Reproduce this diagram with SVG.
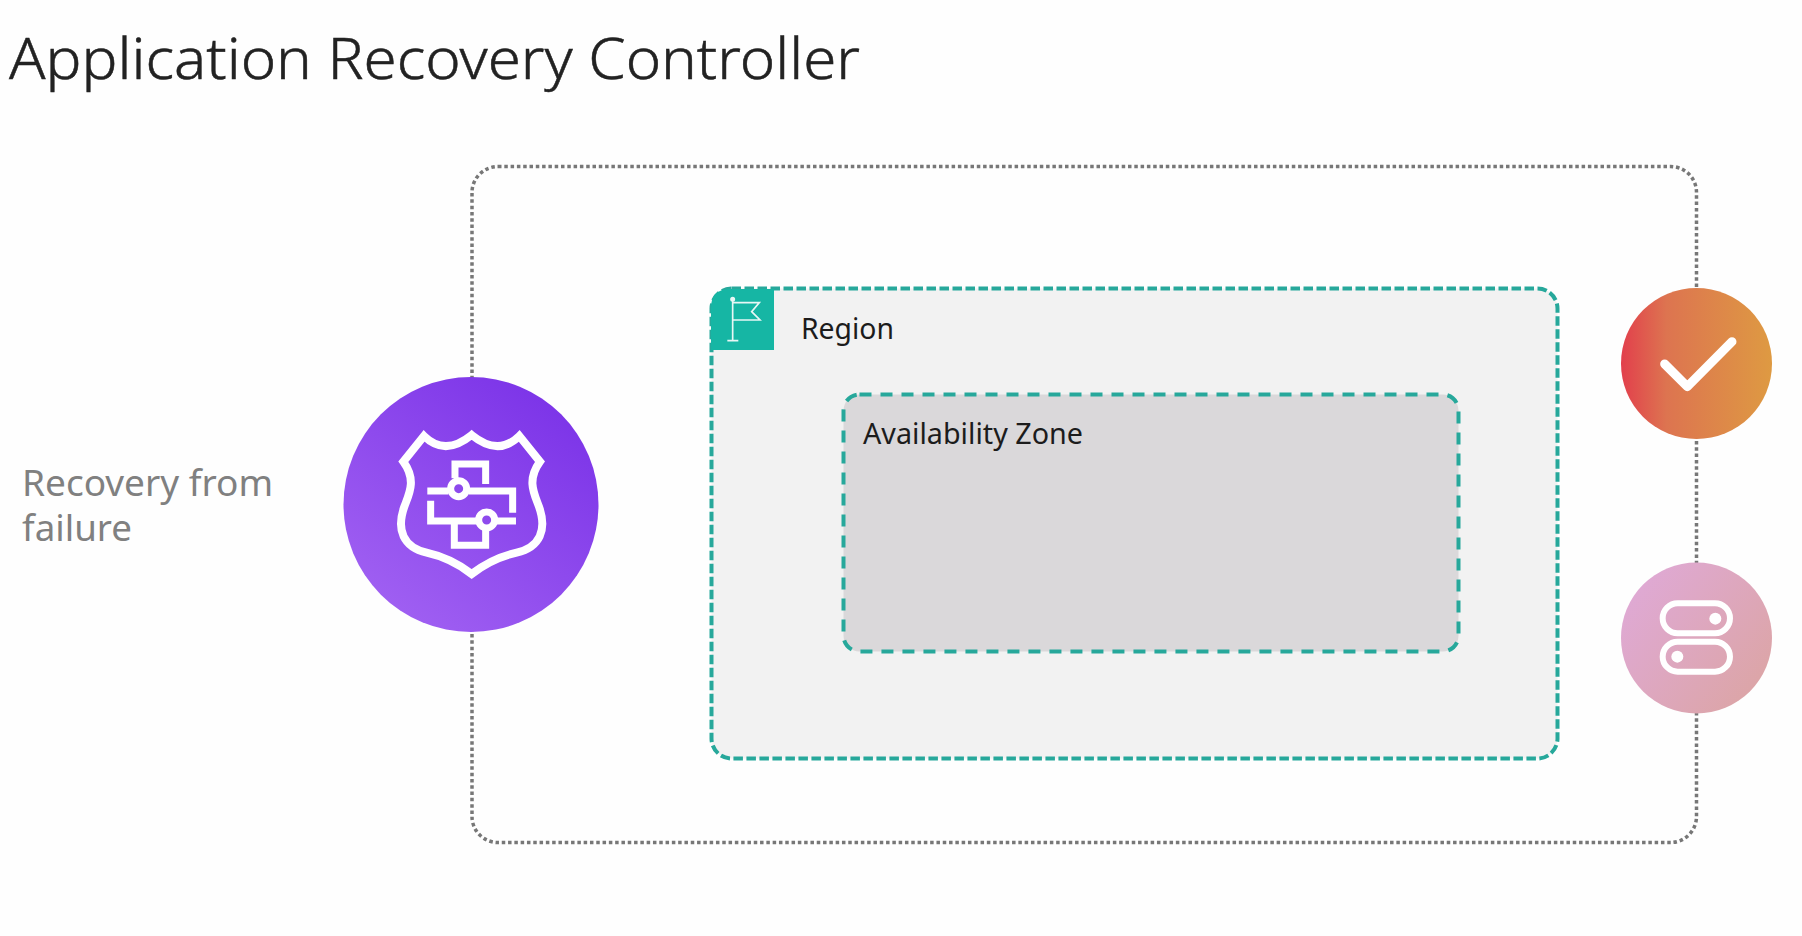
<svg xmlns="http://www.w3.org/2000/svg" width="1802" height="936" viewBox="0 0 1802 936">
<defs>
<linearGradient id="gp" x1="0.2" y1="0.95" x2="0.85" y2="0.1"><stop offset="0" stop-color="#a060f2"/><stop offset="1" stop-color="#7c34e8"/></linearGradient>
<linearGradient id="go" x1="0" y1="0" x2="1" y2="0"><stop offset="0" stop-color="#e23f4c"/><stop offset="0.3" stop-color="#dd7450"/><stop offset="1" stop-color="#de9a42"/></linearGradient>
<linearGradient id="gk" x1="0.1" y1="0.2" x2="0.9" y2="0.8"><stop offset="0" stop-color="#dfa9d3"/><stop offset="1" stop-color="#dca5a8"/></linearGradient>
</defs>
<style>
text{font-family:"Noto Sans","Open Sans","Liberation Sans",sans-serif}
.icon{fill:none;stroke:#fff;stroke-linejoin:miter}
.lbl{font-size:29px;fill:#1c1c1c}
</style>
<rect width="1802" height="936" fill="#fefefe"/>
<text x="9" y="79" font-size="57" fill="#222" stroke="#222" stroke-width=".5" font-weight="300" textLength="851" lengthAdjust="spacingAndGlyphs">Application Recovery Controller</text>
<g id="connectors">
<rect x="472" y="166.500" width="1224.500" height="676" rx="26" fill="none" stroke="#777" stroke-width="3.500" stroke-dasharray="3.500 2.800"/>
</g>
<g id="region">
<rect x="711.500" y="288.500" width="846" height="470" rx="20" fill="#f2f2f2" stroke="#27a89b" stroke-width="4" stroke-dasharray="9.500 3.500"/>
<path d="M711 350V308Q711 289 730 289H774V350Z" fill="#16b6a4"/>
<g transform="translate(700 270) scale(.3333)" fill="none" stroke="#e8f7f5" stroke-width="5">
<path d="M98 88V212M82 212H115M98 98H178L155 125L180 150H98"/><circle cx="98" cy="88" r="5" fill="#e8f7f5"/>
</g>
<text class="lbl" x="801" y="339" textLength="93" lengthAdjust="spacingAndGlyphs">Region</text>
</g>
<g id="availability-zone">
<rect x="843.500" y="394.500" width="615" height="257" rx="16" fill="#dad8da" stroke="#27a89b" stroke-width="4" stroke-dasharray="12 9"/>
<text class="lbl" x="863" y="444" textLength="220" lengthAdjust="spacingAndGlyphs">Availability Zone</text>
</g>
<g id="recovery-label">
<text font-size="36" fill="#808080"><tspan x="22" y="496" textLength="251" lengthAdjust="spacingAndGlyphs">Recovery from</tspan><tspan x="22" y="541" textLength="110" lengthAdjust="spacingAndGlyphs">failure</tspan></text>
</g>
<g id="arc-controller">
<circle cx="471" cy="504.500" r="127.500" fill="url(#gp)"/>
<g transform="translate(320 360) scale(.3333)" class="icon" stroke-width="24">
<path d="M312 228Q375 290 455 225Q535 290 598 228L660 305C620 360 642 400 657 440C682 510 660 562 590 578C535 590 490 615 455 642C420 615 375 590 320 578C250 562 228 510 253 440C268 400 290 360 250 305Z"/>
<path stroke-width="21" d="M322 393H385M447 393H578V458M405 355V312H497V372M332 422V483H470M530 483H588M403 490V556H497V510"/>
<circle stroke-width="21" cx="416" cy="386" r="24"/><circle stroke-width="21" cx="500" cy="480" r="24"/>
</g>
</g>
<g id="health-check">
<circle cx="1696.500" cy="363.500" r="75.500" fill="url(#go)"/>
<path transform="translate(1600 270) scale(.3333)" d="M194 282L262 350L396 215" fill="none" stroke="#fff" stroke-width="27" stroke-linecap="round" stroke-linejoin="round"/>
</g>
<g id="routing-control">
<circle cx="1696.500" cy="638" r="75.500" fill="url(#gk)"/>
<g transform="translate(1600 270) scale(.3333)">
<rect x="188" y="1000" width="202" height="90" rx="45" fill="none" stroke="#fff" stroke-width="18"/>
<rect x="188" y="1115" width="202" height="90" rx="45" fill="none" stroke="#fff" stroke-width="18"/>
<circle cx="346" cy="1046" r="18" fill="#fff"/><circle cx="232" cy="1160" r="18" fill="#fff"/>
</g>
</g>
</svg>
